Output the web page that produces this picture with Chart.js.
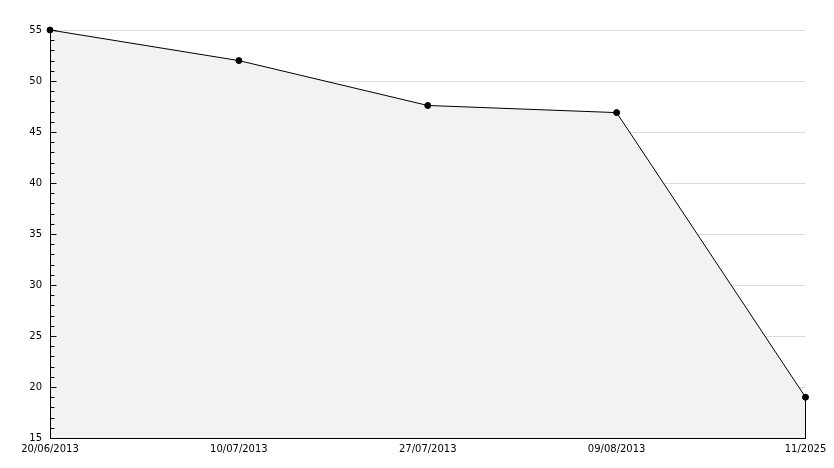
<!DOCTYPE html>
<html>
<head>
<meta charset="utf-8">
<script src="https://cdn.jsdelivr.net/npm/chart.js@4"></script>
<style>
  html, body { margin: 0; padding: 0; background: #fff; }
  #wrap { width: 834px; height: 468px; }
</style>
</head>
<body>
<div id="wrap"><canvas id="chart" width="834" height="468"></canvas></div>
<script>
// Data
const dateLabels = ['20/06/2013', '10/07/2013', '27/07/2013', '09/08/2013', '11/2025'];
const values = [55, 52, 47.6, 46.9, 19];
const yMin = 15;
const yMax = 55;

const points = values.map((v, i) => ({ x: i, y: v }));
const lastIdx = values.length - 1;

// left axis line + inner tick marks (minor every 1, major every 5)
const innerTicks = {
    id: 'innerTicks',
    afterDatasetsDraw(chart) {
        const ctx = chart.ctx;
        const y = chart.scales.y;
        const area = chart.chartArea;
        const left = Math.round(area.left) + 0.5;
        ctx.save();
        ctx.strokeStyle = '#000';
        ctx.lineWidth = 1;
        ctx.beginPath();
        ctx.moveTo(left, Math.round(area.top));
        ctx.lineTo(left, Math.round(area.bottom) + 1);
        ctx.stroke();
        for (let v = yMin; v <= yMax; v++) {
            const py = Math.round(y.getPixelForValue(v)) + 0.5;
            const len = v % 5 === 0 ? 6 : 4;
            ctx.beginPath();
            ctx.moveTo(left, py);
            ctx.lineTo(left + len, py);
            ctx.stroke();
        }
        ctx.restore();
    }
};

new Chart(document.getElementById('chart').getContext('2d'), {
    type: 'line',
    data: {
        datasets: [
            {
                data: points,
                borderColor: '#000',
                borderWidth: 1,
                backgroundColor: '#f2f2f2',
                fill: 'start',
                tension: 0,
                clip: 5,
                order: 1,
                pointRadius: 3,
                pointStyle: 'circle',
                pointBackgroundColor: '#000',
                pointBorderColor: '#000',
                pointBorderWidth: 1
            },
            {
                // closing edge of the area at the last point
                data: [{ x: lastIdx, y: values[lastIdx] }, { x: lastIdx, y: yMin }],
                borderColor: '#000',
                borderWidth: 1,
                pointRadius: 0,
                fill: false,
                clip: 5,
                order: 0
            }
        ]
    },
    options: {
        responsive: false,
        animation: false,
        layout: { padding: { top: 30, right: 28.5, left: 0, bottom: 0 } },
        plugins: {
            legend: { display: false },
            tooltip: { enabled: false }
        },
        scales: {
            x: {
                type: 'linear',
                min: 0,
                max: lastIdx,
                afterBuildTicks: (s) => { s.ticks = dateLabels.map((_, i) => ({ value: i })); },
                afterFit: (s) => { s.height = 30; },
                ticks: {
                    callback: (v) => dateLabels[v],
                    color: '#000',
                    font: { family: 'DejaVu Sans', size: 10 },
                    maxRotation: 0,
                    autoSkip: false,
                    padding: 5
                },
                grid: { display: false, drawTicks: false },
                border: { display: true, color: '#000', width: 1 }
            },
            y: {
                min: yMin,
                max: yMax,
                afterFit: (s) => { s.width = 50; },
                ticks: {
                    stepSize: 5,
                    color: '#000',
                    font: { family: 'DejaVu Sans', size: 10 },
                    padding: 8
                },
                grid: { color: '#dcdcdc', drawTicks: false },
                border: { display: false }
            }
        }
    },
    plugins: [innerTicks]
});
</script>
</body>
</html>
